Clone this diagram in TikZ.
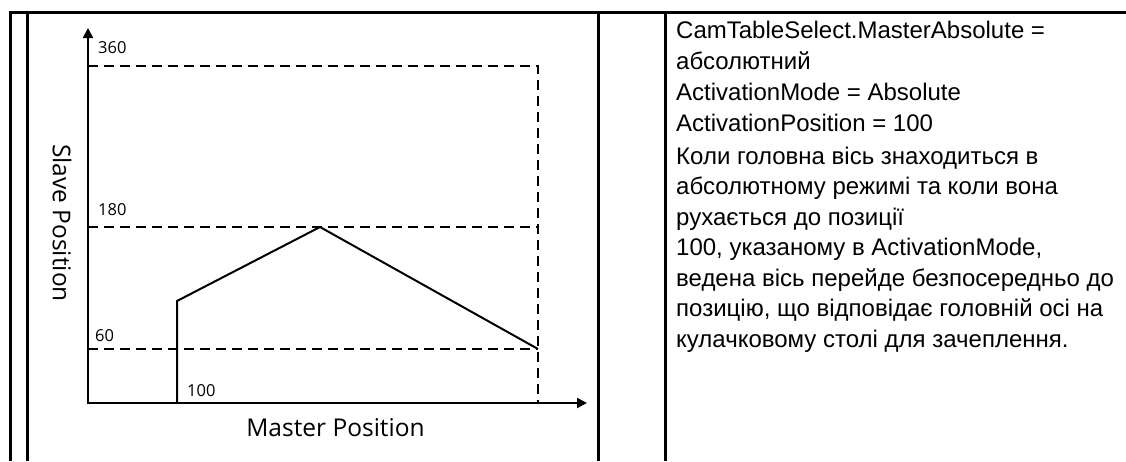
\documentclass[tikz,border=0pt]{standalone}
\usepackage{fontspec}
\setmainfont{Liberation Sans}
\newfontfamily\labfont{Open Sans}
\usetikzlibrary{arrows.meta}
\begin{document}
\begin{tikzpicture}[x=1pt,y=-1pt,
  frame/.style={line width=3pt,line join=miter},
  axis/.style={line width=2pt,line join=miter,{Triangle[length=10pt,width=10pt]}-{Triangle[length=10pt,width=10pt]}},
  guide/.style={line width=2pt,dash pattern=on 10pt off 6pt},
  curve/.style={line width=2pt,line join=miter},
  tick/.style={font=\labfont\fontsize{16.5}{16.5}\selectfont,inner sep=0pt,anchor=west},
  axlabel/.style={font=\labfont\fontsize{24.5}{24.5}\selectfont,inner sep=0pt},
  desc/.style={font=\fontsize{24}{30}\selectfont,inner sep=0pt,anchor=base west}]
\useasboundingbox (0,0) rectangle (1126,461);
% table frame
\coordinate (fbl) at (10,461);
\coordinate (ftl) at (10,12);
\coordinate (ftr) at (1126,12);
\draw[frame] (fbl) -- (ftl) -- (ftr);
\coordinate (c2t) at (27,12);   \coordinate (c2b) at (27,461);
\coordinate (c3t) at (598,12);  \coordinate (c3b) at (598,461);
\coordinate (c4t) at (665,12);  \coordinate (c4b) at (665,461);
\draw[frame] (c2t) -- (c2b);
\draw[frame] (c3t) -- (c3b);
\draw[frame] (c4t) -- (c4b);
% chart
\coordinate (ytip) at (88,28);
\coordinate (O) at (88,403);
\coordinate (xtip) at (587,403);
\coordinate (y360) at (88,66);
\coordinate (y180) at (88,227);
\coordinate (y60) at (88,349);
\coordinate (r360) at (538,66);
\coordinate (r180) at (538,227);
\coordinate (r60) at (538,349);
\coordinate (rbot) at (538,403);
\draw[guide] (y360) -- (r360) -- (rbot);
\draw[guide] (y180) -- (r180);
\draw[guide] (y60) -- (r60);
\draw[axis] (ytip) -- (O) -- (xtip);
\coordinate (p0) at (177,403);
\coordinate (p1) at (177,301);
\coordinate (p2) at (320,227);
\draw[curve] (p0) -- (p1) -- (p2) -- (r60);
\node[tick] (t360) at (98,48) {360};
\node[tick] (t180) at (98,210) {180};
\node[tick] (t60) at (95,336) {60};
\node[tick] (t100) at (187,391) {100};
\node[axlabel,rotate=-90] (slave) at (62,223) {Slave Position};
\node[axlabel] (master) at (335.5,428) {Master Position};
% description
\node[desc] (l1) at (676,38) {CamTableSelect.MasterAbsolute =};
\node[desc] (l2) at (676,69) {абсолютний};
\node[desc] (l3) at (676,100) {ActivationMode = Absolute};
\node[desc] (l4) at (676,131) {ActivationPosition = 100};
\node[desc] (l5) at (676,164) {Коли головна вісь знаходиться в};
\node[desc] (l6) at (676,194.5) {абсолютному режимі та коли вона};
\node[desc] (l7) at (676,225) {рухається до позиції};
\node[desc] (l8) at (676,255.5) {100, указаному в ActivationMode,};
\node[desc] (l9) at (676,286) {ведена вісь перейде безпосередньо до};
\node[desc] (l10) at (676,316.5) {позицію, що відповідає головній осі на};
\node[desc] (l11) at (676,347) {кулачковому столі для зачеплення.};
\end{tikzpicture}
\end{document}
